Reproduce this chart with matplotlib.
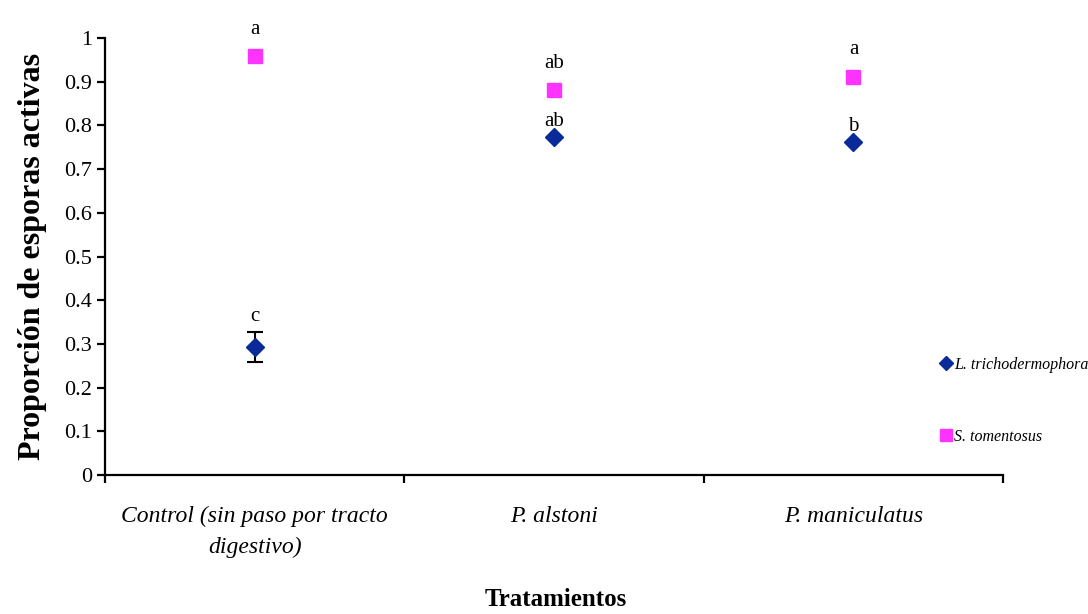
import numpy as np
import matplotlib.pyplot as plt
from matplotlib.lines import Line2D

# data
tratamientos = ['Control (sin paso por tracto\ndigestivo)', 'P. alstoni', 'P. maniculatus']
lt_vals = [0.293, 0.773, 0.762]     # L. trichodermophora
lt_err = [0.034, 0.0, 0.0]
st_vals = [0.959, 0.881, 0.911]     # S. tomentosus
st_err = [0.0, 0.0, 0.0]
lt_letras = ['c', 'ab', 'b']
st_letras = ['a', 'ab', 'a']
yticks = [0, 0.1, 0.2, 0.3, 0.4, 0.5, 0.6, 0.7, 0.8, 0.9, 1]

azul = '#0a2a9a'
magenta = '#ff33ff'

plt.rcParams.update({
    'font.family': 'serif',
    'font.serif': ['Liberation Serif', 'DejaVu Serif'],
    'axes.linewidth': 1.6,
})

fig = plt.figure(figsize=(10.88, 6.14), dpi=100)
ax = fig.add_axes([0.0965, 0.2264, 0.8255, 0.7116])

x = np.arange(len(tratamientos)) + 0.5

def puntos(vals, err, marker, color, ms):
    vals = np.asarray(vals)
    err = np.asarray(err)
    m = err > 0
    if m.any():
        ax.errorbar(x[m], vals[m], yerr=err[m], fmt='none', ecolor='black',
                    elinewidth=1.5, capsize=6, capthick=1.5, zorder=2)
    ax.plot(x, vals, ls='none', marker=marker, color=color, ms=ms, zorder=3)

puntos(lt_vals, lt_err, 'D', azul, 9)
puntos(st_vals, st_err, 's', magenta, 10)

for xi, v, e, t in zip(x, lt_vals, lt_err, lt_letras):
    ax.text(xi, v + e + 0.015, t, ha='center', va='bottom', fontsize=15)
for xi, v, e, t in zip(x, st_vals, st_err, st_letras):
    ax.text(xi, v + e + 0.04, t, ha='center', va='bottom', fontsize=15)

ax.set_xlim(0, 3)
ax.set_ylim(0, 1)
ax.set_yticks(yticks)
ax.set_yticklabels([f'{t:g}' for t in yticks], fontsize=16)
ax.set_xticks([0, 1, 2, 3])
ax.set_xticklabels([])
ax.set_xticks(x, minor=True)
ax.set_xticklabels(tratamientos, minor=True, fontsize=17, style='italic',
                   linespacing=1.6)
ax.tick_params(axis='x', which='minor', length=0, pad=22)
ax.tick_params(axis='both', which='major', direction='out', length=6, width=1.6)

ax.spines['top'].set_visible(False)
ax.spines['right'].set_visible(False)

ax.set_ylabel('Proporción de esporas activas', fontsize=23, fontweight='bold', labelpad=12)
fig.text(0.511, 0.023, 'Tratamientos', ha='center', va='center',
         fontsize=18, fontweight='bold')

handles = [Line2D([], [], ls='none', marker='D', ms=7, color=azul),
           Line2D([], [], ls='none', marker='s', ms=8, color=magenta)]
leg = fig.legend(handles, ['L. trichodermophora', 'S. tomentosus'],
                 loc='upper left', bbox_to_anchor=(0.858, 0.432), frameon=False,
                 fontsize=11.5, handlelength=0.6, handletextpad=0.2,
                 labelspacing=3.5, borderpad=0)
for t in leg.get_texts():
    t.set_fontstyle('italic')

fig.savefig('out.png', dpi=100)
